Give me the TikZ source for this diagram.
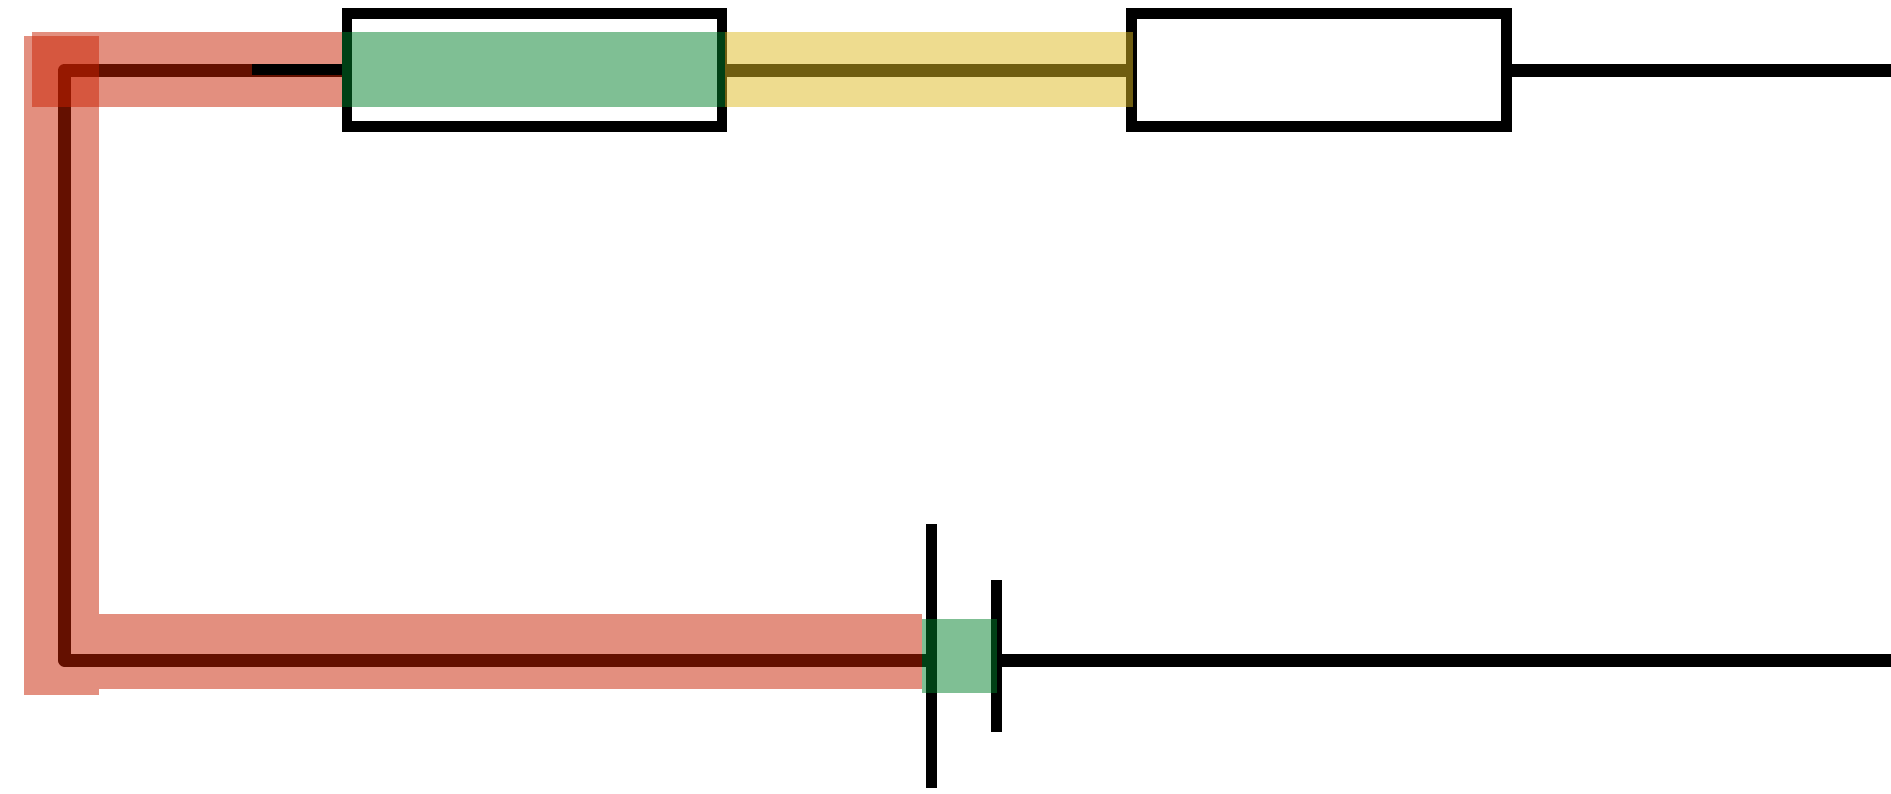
\documentclass[tikz,border=0pt]{standalone}
\definecolor{hlred}{RGB}{200,32,0}
\definecolor{hlgreen}{RGB}{0,128,42}
\definecolor{hlyellow}{RGB}{222,186,32}
\tikzset{
  wire/.style={line width=0.13cm,line join=round},
  boxR/.style={draw,line width=0.105cm,minimum width=3.75cm,minimum height=1.13cm,inner sep=0pt},
  plateL/.style={fill=black,minimum width=0.11cm,minimum height=2.64cm,inner sep=0pt,outer sep=0pt},
  plateS/.style={fill=black,minimum width=0.11cm,minimum height=1.52cm,inner sep=0pt,outer sep=0pt},
  hl/.style={fill opacity=0.5}
}
\begin{document}
\begin{tikzpicture}[x=0.01cm,y=-0.01cm]
    \useasboundingbox (0,0) rectangle (1891,793.6);
    \node at (534.5,69.8) [boxR] (boxA) {};
    \node at (1319,69.8) [boxR] (boxB) {};
    \node at (931.5,656) [plateL] (plateA) {};
    \node at (996.5,656) [plateS] (plateB) {};
    \coordinate (cornerT) at (64.5,70.3);
    \coordinate (cornerB) at (64.5,660);
    \coordinate (outT) at (1891,70.3);
    \coordinate (outB) at (1891,660);
    \coordinate (trim) at (252,69.5);
    \coordinate (thickL) at (682,660.5);
    \coordinate (thickR) at (1246,660.5);
    % wires
    \draw[wire] (cornerT -| boxA.west) -- (cornerT) -- (cornerB) -- (cornerB -| plateA);
    \draw[wire] (thickL) -- (thickL -| plateA);
    \draw[wire] (cornerT -| boxA.east) -- (cornerT -| boxB.west);
    \draw[wire] (outT -| boxB.east) -- (outT);
    \draw[wire] (outB -| plateB) -- (outB);
    \draw[wire] (thickR -| plateB) -- (thickR);
    % highlights
    \fill[hl,hlred] (32,32) rectangle (342,107);
    \fill[hl,hlred] (24,36) rectangle (98.5,695);
    \fill[hl,hlred] (98.5,614) rectangle (921.5,688.5);
    \fill[hl,hlgreen] (342,32) rectangle (725,107);
    \fill[hl,hlgreen] (921.5,619) rectangle (997,693);
    \fill[hl,hlyellow] (725,32) rectangle (1133,107);
    % uncovered bit of the wire
    \draw[line width=0.11cm] (trim) -- (trim -| boxA.west);
\end{tikzpicture}
\end{document}
